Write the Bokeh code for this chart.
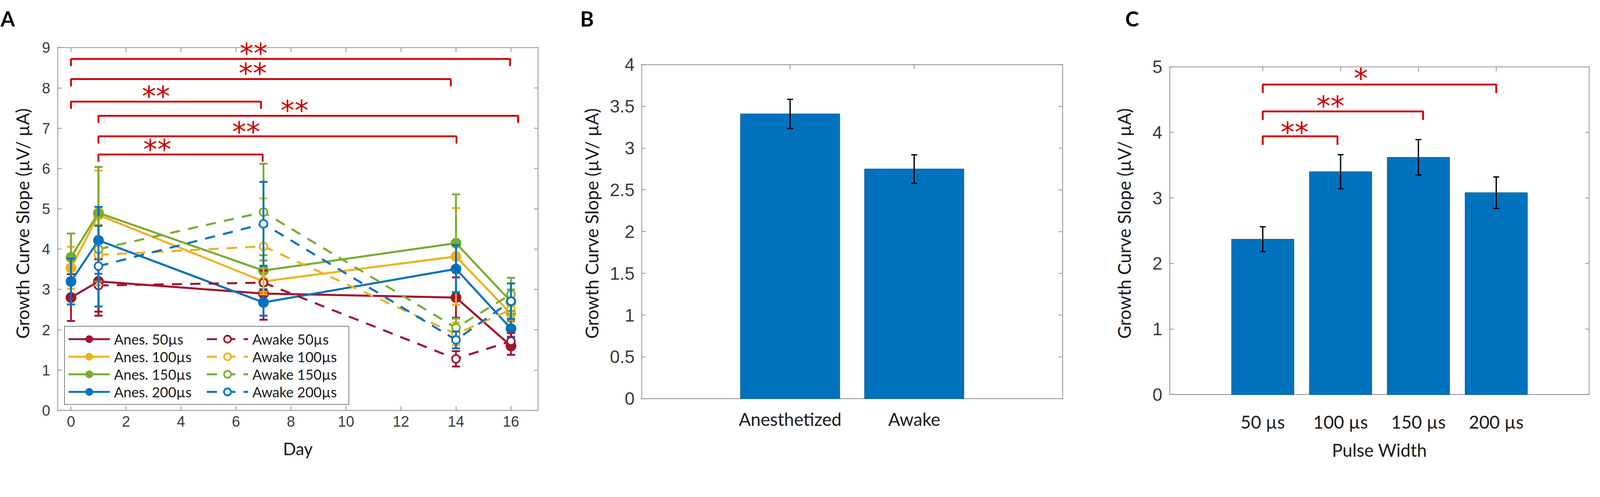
import numpy as np
from bokeh.plotting import figure
from bokeh.layouts import row
from bokeh.models import (Range1d, FixedTicker, Legend, LegendItem,
                          LabelSet, ColumnDataSource)
from bokeh.core.properties import value
from bokeh.embed import file_html
from bokeh.resources import INLINE

# ---------------- Panel A data ----------------
days_anes = [0, 1, 7, 14, 16]
days_awake = [1, 7, 14, 16]
x_ticks_a = [0, 2, 4, 6, 8, 10, 12, 14, 16]
y_ticks_a = [0, 1, 2, 3, 4, 5, 6, 7, 8, 9]

anes_50 = [2.80, 3.20, 2.90, 2.80, 1.60]
anes_50_err = [0.58, 0.85, 0.65, 0.50, 0.22]
anes_100 = [3.54, 4.85, 3.20, 3.82, 2.40]
anes_100_err = [0.52, 1.10, 0.26, 1.20, 0.20]
anes_150 = [3.80, 4.90, 3.47, 4.15, 2.70]
anes_150_err = [0.59, 1.14, 0.38, 1.21, 0.30]
anes_200 = [3.20, 4.22, 2.68, 3.51, 2.03]
anes_200_err = [0.57, 0.83, 0.33, 0.59, 0.20]

awake_50 = [3.10, 3.17, 1.28, 1.72]
awake_50_err = [0.65, 0.30, 0.19, 0.20]
awake_100 = [3.86, 4.07, 1.90, 2.50]
awake_100_err = [0.75, 1.19, 0.28, 0.25]
awake_150 = [4.00, 4.92, 2.05, 2.88]
awake_150_err = [0.80, 1.20, 0.23, 0.41]
awake_200 = [3.58, 4.63, 1.75, 2.71]
awake_200_err = [1.00, 1.04, 0.21, 0.44]

legend_labels = ["Anes. 50µs", "Anes. 100µs", "Anes. 150µs", "Anes. 200µs",
                 "Awake 50µs", "Awake 100µs", "Awake 150µs", "Awake 200µs"]
series_colors = ["#A2142F", "#EDB120", "#77AC30", "#0072BD"]

# significance brackets, panel A
sig_a_x0 = [0, 0, 0, 1, 1, 1]
sig_a_x1 = [15.97, 13.81, 6.91, 16.26, 14.02, 6.97]
sig_a_y = [8.72, 8.22, 7.66, 7.31, 6.80, 6.35]
sig_a_text = ["**", "**", "**", "**", "**", "**"]
sig_a_tx = [6.64, 6.61, 3.09, 8.13, 6.37, 3.14]
sig_a_ty = [9.05, 8.55, 7.98, 7.63, 7.10, 6.66]

# ---------------- Panel B data ----------------
states = ["Anesthetized", "Awake"]
state_mean = [3.41, 2.75]
state_err = [0.175, 0.17]
y_ticks_b = [0, 0.5, 1, 1.5, 2, 2.5, 3, 3.5, 4]

# ---------------- Panel C data ----------------
pulse_widths = ["50 µs", "100 µs", "150 µs", "200 µs"]
pulse_mean = [2.37, 3.40, 3.62, 3.08]
pulse_err = [0.19, 0.26, 0.27, 0.24]
y_ticks_c = [0, 1, 2, 3, 4, 5]

sig_c_x0 = [1, 1, 1]
sig_c_x1 = [4.0, 3.06, 1.96]
sig_c_y = [4.73, 4.32, 3.94]
sig_c_text = ["*", "**", "**"]
sig_c_tx = [2.26, 1.87, 1.41]
sig_c_ty = [4.94, 4.52, 4.12]

# ---------------- styling ----------------
S = 1 / 1.056            # page is displayed slightly enlarged; work in scaled pixels
AX_GRAY = "#a0a0a0"
TICK_TXT = "#3a3a3a"
SIG_RED = "#d00000"
BAR_BLUE = "#0072BD"
YLABEL = "Growth Curve Slope (µV/ µA)"
TOP_B, FRAME_H, BOT_B = 93, 957, 134   # common for all three panels


def px(v):
    return int(round(v * S))


def fs(v):
    return f"{v * S:.1f}px"


def make_fig(fw, bl, br, xr, yr, letter, letter_offset):
    p = figure(frame_width=fw, frame_height=FRAME_H,
               x_range=Range1d(*xr), y_range=Range1d(*yr),
               output_backend="svg", toolbar_location=None,
               min_border_left=bl, min_border_right=br,
               min_border_top=TOP_B, min_border_bottom=BOT_B)
    p.xgrid.visible = False
    p.ygrid.visible = False
    p.outline_line_color = None
    p.background_fill_color = "white"
    p.border_fill_color = "white"
    p.title.text = letter
    p.title.align = "left"
    p.title.vertical_align = "top"
    p.title.offset = letter_offset
    p.title.standoff = 26
    p.title.text_font = "Lato"
    p.title.text_font_size = fs(56)
    p.title.text_font_style = "bold"
    p.title.text_color = "black"
    return p


def style_axis(ax, font, size, ticks):
    ax.ticker = FixedTicker(ticks=ticks)
    ax.axis_line_color = AX_GRAY
    ax.axis_line_width = 2.5 * S
    ax.major_tick_in = px(12)
    ax.major_tick_out = 0
    ax.major_tick_line_color = AX_GRAY
    ax.major_tick_line_width = 2.5 * S
    ax.minor_tick_line_color = None
    ax.major_label_text_font = font
    ax.major_label_text_font_size = size
    ax.major_label_text_color = TICK_TXT
    ax.axis_label_text_font = "Lato"
    ax.axis_label_text_font_size = fs(48)
    ax.axis_label_text_font_style = "normal"
    ax.axis_label_text_color = "#1a1a1a"


def inward_ticks(p, xs, ys, angle):
    p.ray(x=xs, y=ys, length=12 * S, length_units="screen", angle=angle,
          line_color=AX_GRAY, line_width=2.5 * S)


def draw_box(p, xr, ytop, with_bottom):
    # axes box at the data limits (the frame itself is a little taller)
    y0s = [0, ytop] if with_bottom else [ytop]
    p.segment(x0=[xr[0]] * len(y0s), y0=y0s, x1=[xr[1]] * len(y0s), y1=y0s,
              line_color=AX_GRAY, line_width=2.5 * S)
    p.segment(x0=[xr[0], xr[1]], y0=[0, 0], x1=[xr[0], xr[1]], y1=[ytop, ytop],
              line_color=AX_GRAY, line_width=5 * S)


def add_brackets(p, x0, x1, y, drop, tx, ty, txt):
    xs = [[a, a, b, b] for a, b in zip(x0, x1)]
    ys = [[v - drop, v, v, v - drop] for v in y]
    p.multi_line(xs=xs, ys=ys, line_color=SIG_RED, line_width=5 * S)
    src = ColumnDataSource(dict(x=tx, y=ty, text=txt))
    p.add_layout(LabelSet(x="x", y="y", text="text", source=src,
                          text_font=value("DejaVu Sans"), text_font_size=value(fs(76)),
                          text_color=SIG_RED, text_align="center",
                          text_baseline="middle", y_offset=-20 * S))


# ================= Panel A =================
XR_A, YR_A = (-0.5, 17), (0, 9.2752)
pa = make_fig(px(1301), px(154), px(97), XR_A, YR_A, "A", -153 * S)
style_axis(pa.xaxis[0], "Liberation Sans", fs(40), x_ticks_a)
style_axis(pa.yaxis[0], "Liberation Sans", fs(40), y_ticks_a)
pa.yaxis.axis_line_color = None
pa.xaxis.axis_label = "Day"
pa.xaxis.axis_label_text_font_size = fs(46)
pa.yaxis.axis_label = YLABEL
pa.xaxis.major_label_standoff = px(15)
pa.xaxis.axis_label_standoff = px(28)
pa.yaxis.major_label_standoff = px(19)
pa.yaxis.axis_label_standoff = px(20)
draw_box(pa, XR_A, y_ticks_a[-1], False)
inward_ticks(pa, x_ticks_a, [y_ticks_a[-1]] * len(x_ticks_a), -np.pi / 2)
inward_ticks(pa, [XR_A[1]] * len(y_ticks_a), y_ticks_a, np.pi)

add_brackets(pa, sig_a_x0, sig_a_x1, sig_a_y, 0.18, sig_a_tx, sig_a_ty, sig_a_text)

series = [
    (days_anes, anes_50, anes_50_err, series_colors[0], True),
    (days_anes, anes_100, anes_100_err, series_colors[1], True),
    (days_anes, anes_150, anes_150_err, series_colors[2], True),
    (days_anes, anes_200, anes_200_err, series_colors[3], True),
    (days_awake, awake_50, awake_50_err, series_colors[0], False),
    (days_awake, awake_100, awake_100_err, series_colors[1], False),
    (days_awake, awake_150, awake_150_err, series_colors[2], False),
    (days_awake, awake_200, awake_200_err, series_colors[3], False),
]

items = []
for lab, (d, m, e, c, filled) in zip(legend_labels, series):
    m_arr = np.array(m)
    e_arr = np.array(e)
    src = ColumnDataSource(dict(x=d, y=m, lo=m_arr - e_arr, hi=m_arr + e_arr))
    ln = pa.line("x", "y", source=src, line_color=c, line_width=5.5 * S,
                 line_dash="solid" if filled else "26 21")
    pa.segment(x0="x", y0="lo", x1="x", y1="hi", source=src, line_color=c, line_width=5 * S)
    pa.scatter("x", "lo", source=src, marker="dash", size=22 * S, line_color=c, line_width=5 * S)
    pa.scatter("x", "hi", source=src, marker="dash", size=22 * S, line_color=c, line_width=5 * S)
    if filled:
        sc = pa.scatter("x", "y", source=src, marker="circle", size=27 * S,
                        fill_color=c, line_color=c, line_width=2 * S)
    else:
        sc = pa.scatter("x", "y", source=src, marker="circle", size=21 * S,
                        fill_color="white", line_color=c, line_width=4.5 * S)
    items.append(LegendItem(label=lab, renderers=[ln, sc]))

legend = Legend(items=items, location=(px(19), px(15)), orientation="vertical", nrows=4,
                glyph_width=px(112), glyph_height=px(47), spacing=0, padding=px(10), margin=0,
                label_standoff=px(12), label_width=px(250),
                label_text_font="Lato", label_text_font_size=fs(38),
                label_text_color="#1a1a1a",
                border_line_color="black", border_line_width=3 * S,
                background_fill_color="white", background_fill_alpha=1.0)
pa.add_layout(legend)

# ================= Panel B =================
# the three frames share top/bottom; B's data limits sit inside its frame
xb = np.arange(1, len(states) + 1)
XR_B = (-0.2, 3.2)
YR_B = (-0.14175, 4.33666)
pb = make_fig(px(1141), px(181), px(98), XR_B, YR_B, "B", -165 * S)
style_axis(pb.xaxis[0], "Lato", fs(48), list(xb))
style_axis(pb.yaxis[0], "Liberation Sans", fs(48), y_ticks_b)
pb.xaxis.axis_line_color = None
pb.yaxis.axis_line_color = None
pb.xaxis.major_tick_in = 0
pb.xaxis.major_tick_line_color = None
pb.xaxis.major_label_overrides = {int(i): s for i, s in zip(xb, states)}
pb.yaxis.major_label_overrides = {t: f"{t:g}" for t in y_ticks_b}
pb.xaxis.major_label_text_color = "#1a1a1a"
pb.yaxis.axis_label = YLABEL
pb.xaxis.major_label_standoff = px(-6)
pb.yaxis.major_label_standoff = px(18)
pb.yaxis.axis_label_standoff = px(17)
draw_box(pb, XR_B, y_ticks_b[-1], True)
inward_ticks(pb, list(xb), [0] * len(xb), np.pi / 2)
inward_ticks(pb, list(xb), [y_ticks_b[-1]] * len(xb), -np.pi / 2)
inward_ticks(pb, [XR_B[1]] * len(y_ticks_b), y_ticks_b, np.pi)

sb = np.array(state_mean)
eb = np.array(state_err)
srcb = ColumnDataSource(dict(x=xb, top=sb, lo=sb - eb, hi=sb + eb))
pb.vbar(x="x", top="top", width=0.8, bottom=0, source=srcb,
        fill_color=BAR_BLUE, line_color="#005d9c", line_width=1.5 * S)
pb.segment(x0="x", y0="lo", x1="x", y1="hi", source=srcb, line_color="black", line_width=3.5 * S)
pb.scatter("x", "lo", source=srcb, marker="dash", size=16 * S, line_color="black", line_width=3.5 * S)
pb.scatter("x", "hi", source=srcb, marker="dash", size=16 * S, line_color="black", line_width=3.5 * S)

# ================= Panel C =================
xc = np.arange(1, len(pulse_widths) + 1)
XR_C = (-0.2, 5.2)
YR_C = (-0.24266, 5.46275)
pc = make_fig(px(1136), px(189), px(4), XR_C, YR_C, "C", -119 * S)
style_axis(pc.xaxis[0], "Lato", fs(48), list(xc))
style_axis(pc.yaxis[0], "Liberation Sans", fs(48), y_ticks_c)
pc.xaxis.axis_line_color = None
pc.yaxis.axis_line_color = None
pc.xaxis.major_tick_in = 0
pc.xaxis.major_tick_line_color = None
pc.xaxis.major_label_overrides = {int(i): s for i, s in zip(xc, pulse_widths)}
pc.xaxis.major_label_text_color = "#1a1a1a"
pc.xaxis.axis_label = "Pulse Width"
pc.yaxis.axis_label = YLABEL
pc.xaxis.major_label_standoff = px(1)
pc.xaxis.axis_label_standoff = px(15)
pc.yaxis.major_label_standoff = px(19)
pc.yaxis.axis_label_standoff = px(44)
draw_box(pc, XR_C, y_ticks_c[-1], True)
inward_ticks(pc, list(xc), [0] * len(xc), np.pi / 2)
inward_ticks(pc, list(xc), [y_ticks_c[-1]] * len(xc), -np.pi / 2)
inward_ticks(pc, [XR_C[1]] * len(y_ticks_c), y_ticks_c, np.pi)

sc_ = np.array(pulse_mean)
ec = np.array(pulse_err)
srcc = ColumnDataSource(dict(x=xc, top=sc_, lo=sc_ - ec, hi=sc_ + ec))
pc.vbar(x="x", top="top", width=0.8, bottom=0, source=srcc,
        fill_color=BAR_BLUE, line_color="#005d9c", line_width=1.5 * S)
pc.segment(x0="x", y0="lo", x1="x", y1="hi", source=srcc, line_color="black", line_width=3.5 * S)
pc.scatter("x", "lo", source=srcc, marker="dash", size=16 * S, line_color="black", line_width=3.5 * S)
pc.scatter("x", "hi", source=srcc, marker="dash", size=16 * S, line_color="black", line_width=3.5 * S)

add_brackets(pc, sig_c_x0, sig_c_x1, sig_c_y, 0.13, sig_c_tx, sig_c_ty, sig_c_text)

layout = row(pa, pb, pc)
open("out.html", "w").write(file_html(layout, INLINE))
